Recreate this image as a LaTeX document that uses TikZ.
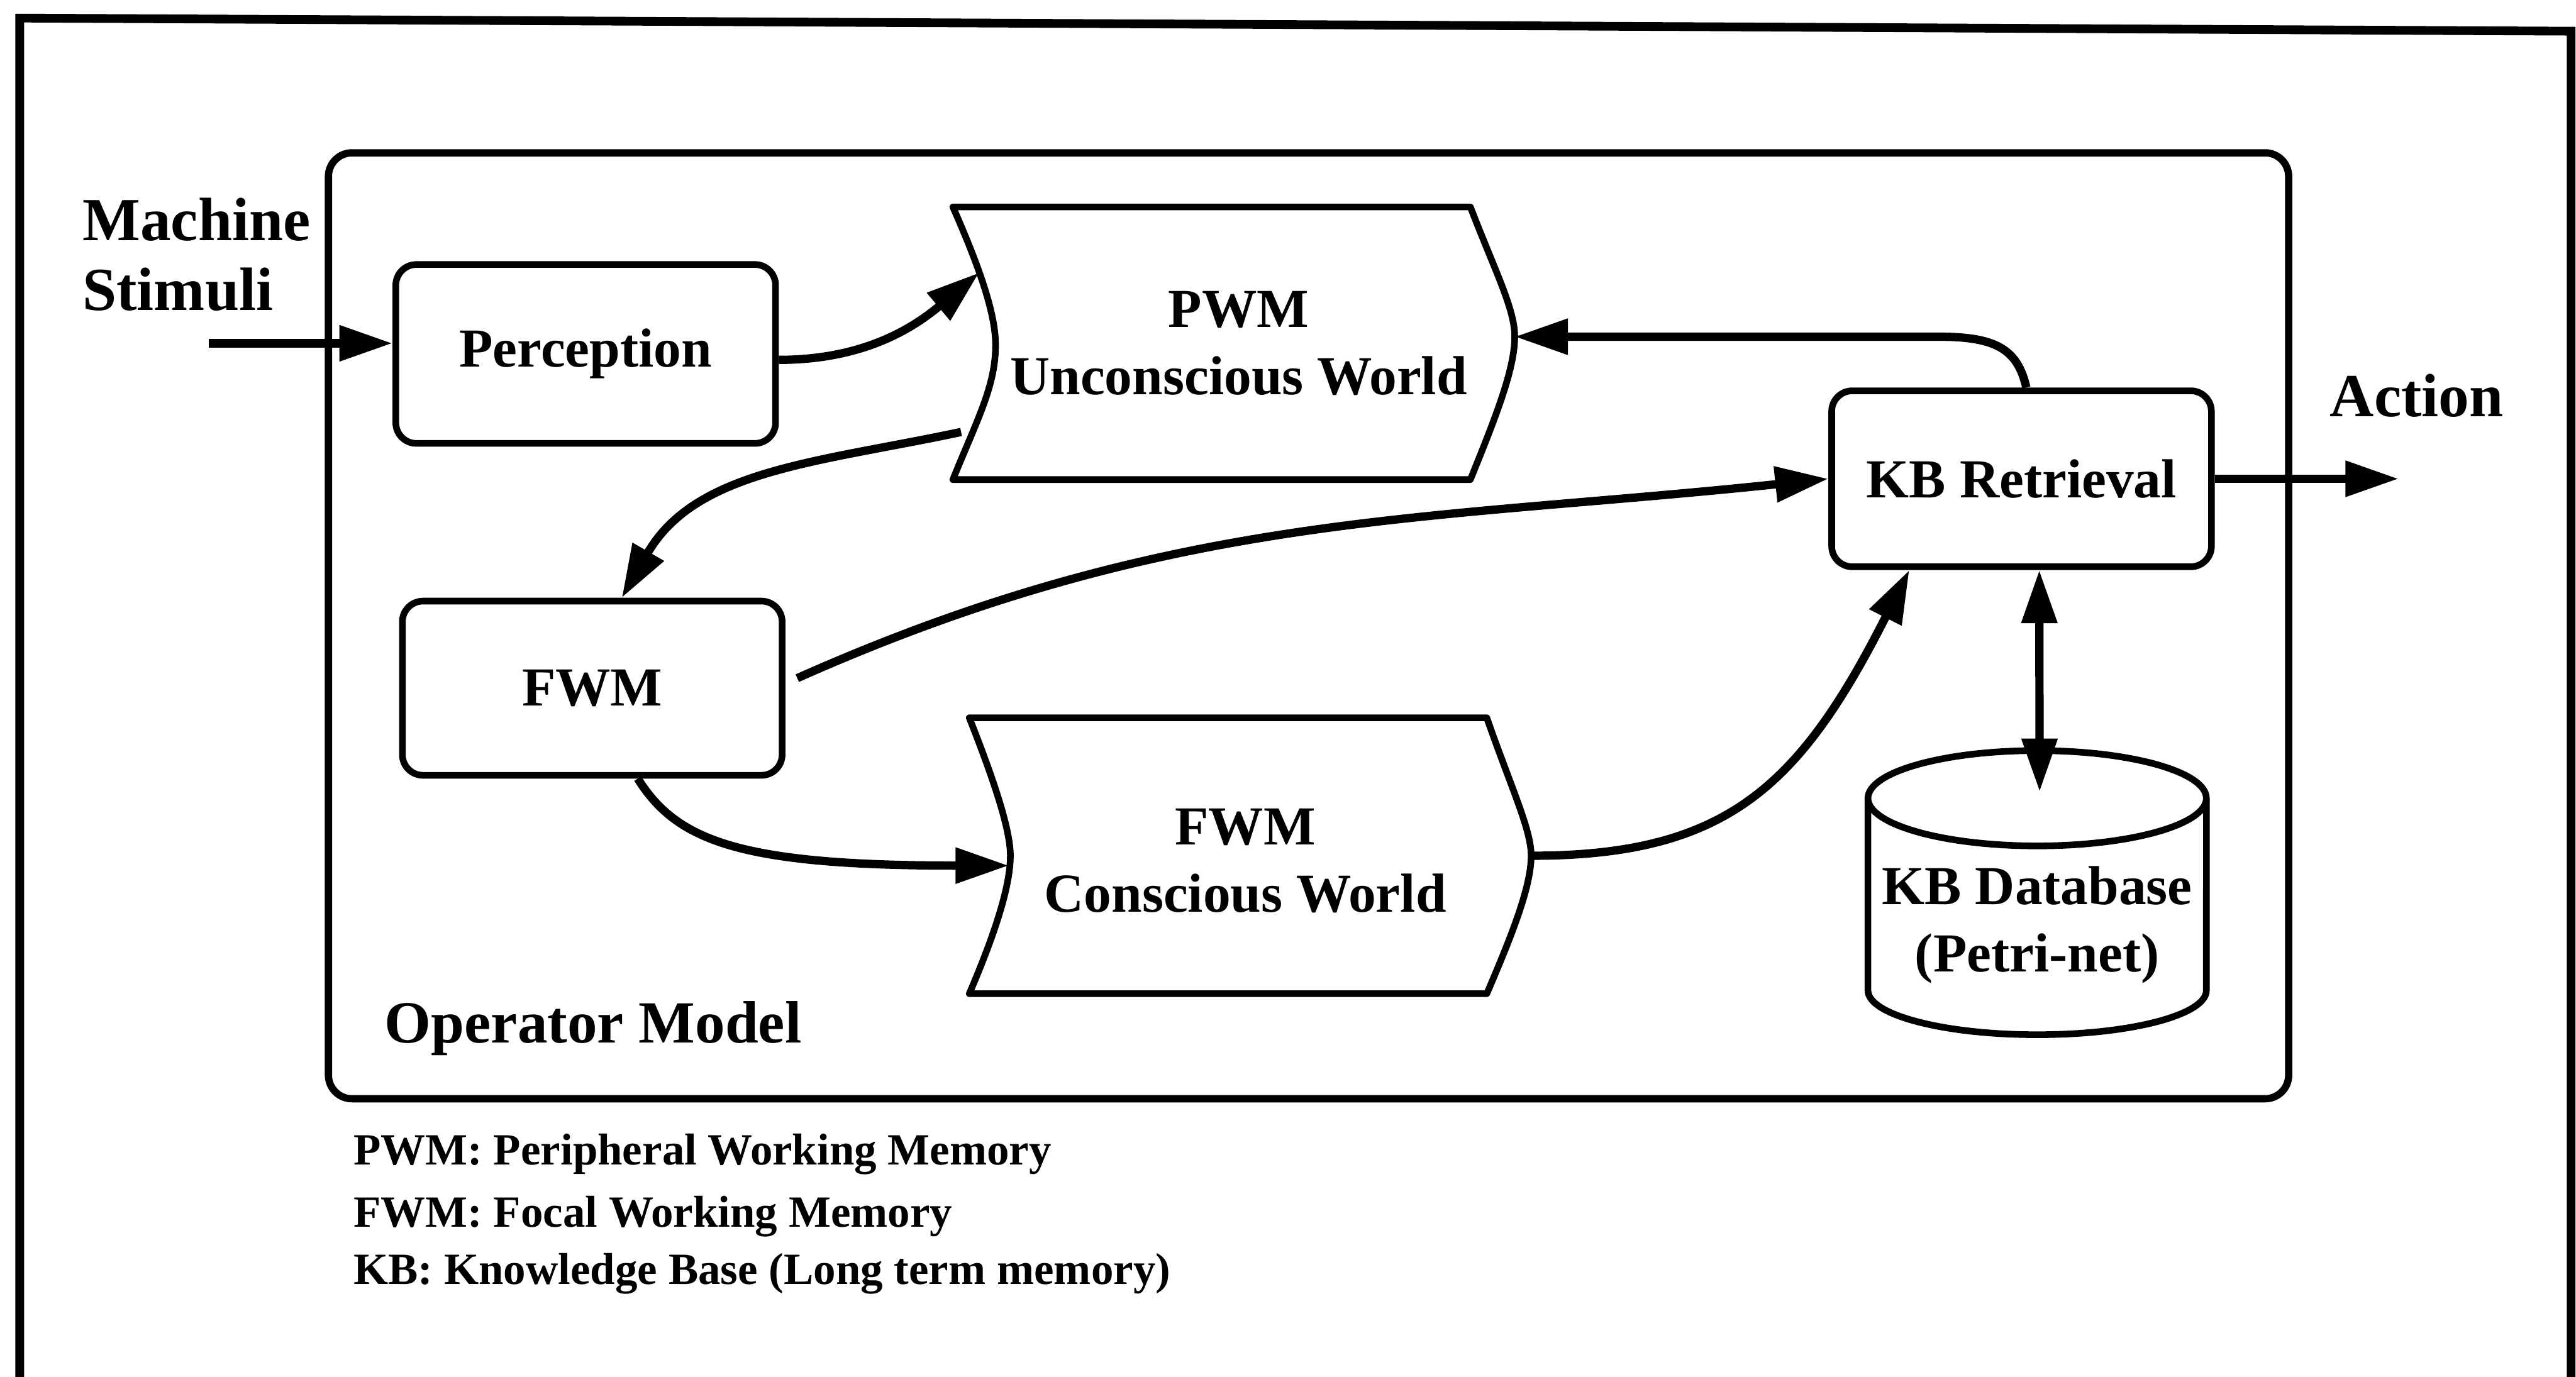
\documentclass[tikz,border=0pt]{standalone}
\usepackage{fontspec}
\setmainfont{Liberation Serif}
\usetikzlibrary{arrows.meta}
\newcommand\labfont{\fontsize{26.5}{32.5}\selectfont\bfseries}
\newcommand\bigfont{\fontsize{29.5}{33.5}\selectfont\bfseries}
\newcommand\modelfont{\fontsize{28.8}{33}\selectfont\bfseries}
\newcommand\notefont{\fontsize{21.5}{28}\selectfont\bfseries}
\begin{document}
\begin{tikzpicture}[x=0.02782cm,y=-0.02782cm,
  box/.style={draw,line width=3.2pt,rounded corners=0.35cm,font=\labfont,align=center,inner sep=0pt},
  wshape/.style={draw,line width=3.2pt,fill=white,line join=round},
  txt/.style={inner sep=0pt,align=center},
  arr/.style={line width=4pt,-{Triangle[length=0.9cm 0 0,width=0.58cm 0 0]}},
  dblarr/.style={line width=4pt,{Triangle[length=0.9cm 0 0,width=0.58cm 0 0]}-{Triangle[length=0.9cm 0 0,width=0.58cm 0 0]}},
  frameline/.style={line width=4.2pt,line cap=rect}
]
\useasboundingbox (0,0) rectangle (1568,838);

% outer page frame (open at the bottom)
\draw[frameline] (12,850) -- (12,11) -- (1565,19) -- (1565,850);

% operator model container
\node[draw,line width=3.5pt,rounded corners=0.4cm,minimum width=33.19cm,minimum height=16.02cm,inner sep=0pt] (opm) at (796.5,381) {};
\node[anchor=west,txt,font=\modelfont] (opmlbl) at (234,626) {Operator Model};

% input and output labels
\node[anchor=west,inner sep=0pt,align=left,font=\bigfont] (stimtxt) at (50,155) {Machine\\Stimuli};
\node[txt,font=\bigfont] (acttxt) at (1471,241) {Action};

% rounded process boxes
\node[box,minimum width=6.43cm,minimum height=3.03cm] (perc) at (356.5,215.5) {Perception};
\node[box,minimum width=6.43cm,minimum height=2.95cm] (fwm) at (360.5,419) {FWM};
\node[box,minimum width=6.43cm,minimum height=2.98cm] (kbr) at (1230.5,291.5) {KB Retrieval};

% peripheral working memory (notched shape)
\draw[wshape] (580,126) -- (895,126)
  .. controls (910,165) and (922,188) .. (922,205)
  .. controls (922,225) and (910,255) .. (895,292)
  -- (580,292)
  .. controls (595,255) and (606,235) .. (606,210)
  .. controls (606,190) and (595,160) .. (580,126) -- cycle;
\node[txt,font=\labfont] (pwm) at (754,209) {PWM\\Unconscious World};
\coordinate (pwmR) at (922,205);
\coordinate (pwmIn) at (596,166);
\coordinate (pwmOut) at (585,263);

% focal working memory (notched shape)
\draw[wshape] (590,437) -- (905,437)
  .. controls (920,480) and (932,505) .. (932,521)
  .. controls (932,540) and (920,570) .. (905,605)
  -- (590,605)
  .. controls (605,570) and (615,540) .. (615,521)
  .. controls (615,505) and (605,475) .. (590,437) -- cycle;
\node[txt,font=\labfont] (fwmc) at (758,524) {FWM\\Conscious World};
\coordinate (fwmcL) at (614,527);
\coordinate (fwmcR) at (932,521);

% knowledge base cylinder
\draw[wshape] (1137,486) -- (1137,603) arc[start angle=180,end angle=360,x radius=2.865cm,y radius=0.75cm] -- (1343,486);
\draw[wshape] (1240,486) ellipse[x radius=2.865cm,y radius=0.807cm];
\node[txt,font=\labfont] (kbd) at (1240,563) {KB Database\\(Petri-net)};
\coordinate (kbdtop) at (1241.5,482);

% connectors
\coordinate (stim) at (127,209);
\coordinate (act) at (1460,291.5);
\coordinate (kbrbend) at (1180,205);
\draw[arr] (stim) -- (stim -| perc.west);
\draw[arr] ([yshift=-0.1cm]perc.east) to[out=0,in=220] (pwmIn);
\draw[arr] (pwmOut) to[out=192,in=60] ([xshift=0.5cm]fwm.north);
\draw[arr] ([shift={(0.2cm,0.17cm)}]fwm.east) to[out=24,in=186] (kbr.west);
\draw[arr] ([xshift=0.77cm]fwm.south) .. controls (412,512) and (450,527) .. (fwmcL);
\draw[arr] (fwmcR) .. controls (1050,521) and (1095,480) .. ([xshift=-1.9cm]kbr.south);
\draw[arr] ([xshift=0.08cm]kbr.north) .. controls (1228,212) and (1214,205) .. (kbrbend) -- (pwmR);
\draw[arr] (kbr.east) -- (act);
\draw[dblarr] ([xshift=0.3cm]kbr.south) -- (kbdtop);

% abbreviations
\node[anchor=base west,inner sep=0pt,font=\notefont] (leg1) at (215,709) {PWM: Peripheral Working Memory};
\node[anchor=base west,inner sep=0pt,font=\notefont] (leg2) at (215,747) {FWM: Focal Working Memory};
\node[anchor=base west,inner sep=0pt,font=\notefont] (leg3) at (215,782) {KB: Knowledge Base (Long term memory)};
\end{tikzpicture}
\end{document}
